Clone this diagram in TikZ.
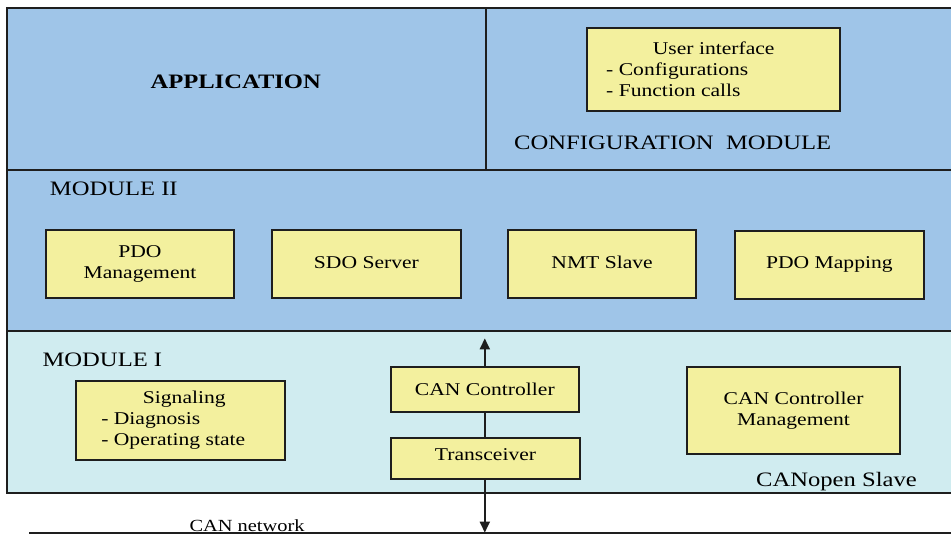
\documentclass[tikz,border=0pt]{standalone}
\usepackage{fontspec}
\setmainfont{Liberation Serif}[FakeStretch=1.2]
\usetikzlibrary{arrows.meta}
\definecolor{topblue}{HTML}{9FC5E8}
\definecolor{lowcyan}{HTML}{D0ECF0}
\definecolor{boxyellow}{HTML}{F3F09E}
\definecolor{edge}{HTML}{1E1E1E}
\begin{document}
\begin{tikzpicture}[x=1pt,y=-1pt,
  region/.style={fill=#1, draw=edge, line width=2.2pt},
  block/.style={draw=edge, fill=boxyellow, line width=2.2pt, inner sep=0pt,
    font=\fontsize{18}{21}\selectfont, align=center},
  biglabel/.style={anchor=base west, inner sep=0pt, font=\fontsize{20.5}{24}\selectfont},
  netlabel/.style={anchor=base west, inner sep=0pt, font=\fontsize{17}{20}\selectfont},
  conn/.style={draw=edge, line width=2pt},
  tip/.style={-{Triangle[length=11pt,width=10pt]}}]
\clip (0,0) rectangle (951,534);
\fill[white] (0,0) rectangle (951,534);
% layers
\draw[region=topblue] (7,8) rectangle (965,170);
\draw[region=topblue] (7,170) rectangle (965,331);
\draw[region=lowcyan] (7,331) rectangle (965,493);
\draw[draw=edge, line width=1.5pt] (486,8) -- (486,170);
% labels
\node[biglabel, font=\fontsize{20.5}{24}\selectfont\bfseries] (app) at (150.3,89) {APPLICATION};
\node[biglabel] (cfgmod) at (514,150) {CONFIGURATION\ \ MODULE};
\node[biglabel] (mod2) at (49.7,196) {MODULE II};
\node[biglabel] (mod1) at (42.4,366.7) {MODULE I};
\node[biglabel] (slave) at (756,486) {CANopen Slave};
% boxes
\node[block, minimum width=252.7, minimum height=82.7] (ui) at (713.7,69.7)
  {\raisebox{3pt}{\parbox{215pt}{\centering User interface\par\raggedright - Configurations\\- Function calls}}};
\node[block, minimum width=188.6, minimum height=67.7] (pdom) at (140,263.8)
  {\raisebox{5pt}{\parbox{180pt}{\centering PDO\\Management}}};
\node[block, minimum width=188.5, minimum height=67.4] (sdo) at (366.4,264)
  {\raisebox{3.5pt}{SDO Server}};
\node[block, minimum width=188.5, minimum height=67.4] (nmt) at (602.1,264)
  {\raisebox{3.5pt}{NMT Slave}};
\node[block, minimum width=188.4, minimum height=68] (pdomap) at (829.4,264.7)
  {PDO Mapping};
\node[block, minimum width=209.3, minimum height=79] (sig) at (180.3,420.5)
  {\raisebox{3pt}{\parbox{158pt}{\centering\hspace*{8pt}Signaling\par\raggedright - Diagnosis\\- Operating state}}};
\node[block, minimum width=188.3, minimum height=45.6] (canc) at (484.8,389.5)
  {CAN Controller};
\node[block, minimum width=189, minimum height=41] (trans) at (485.5,458.8)
  {\raisebox{8pt}{Transceiver}};
\node[block, minimum width=212.7, minimum height=87.6] (ccm) at (793.6,410.5)
  {\parbox{200pt}{\centering CAN Controller\\Management}};
% network
\coordinate (netL) at (29,533);
\coordinate (netR) at (955,533);
\draw[draw=edge, line width=2.6pt] (netL) -- (netR);
\node[netlabel] (netlbl) at (189.3,531) {CAN network};
% connectors
\path (canc.north) ++(0,-27.2) coordinate (uptip);
\path (canc.south |- trans.south) ++(0,52.2) coordinate (nettip);
\draw[conn, tip] (canc.north) -- (uptip);
\draw[conn] (canc.south) -- (canc.south |- trans.north);
\draw[conn, tip] (canc.south |- trans.south) -- (nettip);
\end{tikzpicture}
\end{document}
